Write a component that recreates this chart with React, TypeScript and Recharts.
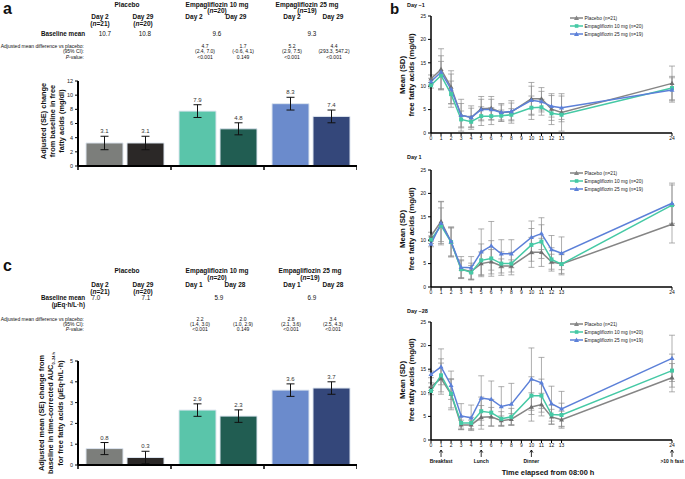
import React from 'react';
import { BarChart, Bar, Cell, XAxis, YAxis, ErrorBar, LabelList, LineChart, Line } from 'recharts';

const FONT = '"Liberation Sans", Arial, sans-serif';

// ---- panel a: change in free fatty acids (mg/dl)
const groups = ['Placebo', 'Empagliflozin 10 mg', 'Empagliflozin 25 mg'];
const ffaFirst = [3.25, 7.75, 8.8];
const ffaSecond = [3.25, 5.25, 7.0];
const ffaFirstSe = [0.95, 0.9, 0.9];
const ffaSecondSe = [0.95, 0.85, 0.9];
const ffaFirstLbl = ['3.1', '7.9', '8.3'];
const ffaSecondLbl = ['3.1', '4.8', '7.4'];

// ---- panel c: change in time-corrected AUC
const aucFirst = [0.79, 2.64, 3.6];
const aucSecond = [0.36, 2.35, 3.7];
const aucFirstSe = [0.29, 0.3, 0.3];
const aucSecondSe = [0.3, 0.3, 0.3];
const aucFirstLbl = ['0.8', '2.9', '3.6'];
const aucSecondLbl = ['0.3', '2.3', '3.7'];

const firstColors = ['#7c7e7b', '#5ac5aa', '#6b8bcc'];
const secondColors = ['#2b2827', '#215d52', '#34477a'];

// ---- panel b: mean (SD) free fatty acids over time
const hours = [0, 1, 2, 3, 4, 5, 6, 7, 8, 10, 11, 12, 13, 24];
const hourTicks = [0, 1, 2, 3, 4, 5, 6, 7, 8, 9, 10, 11, 12, 13, 24];

const dm1Placebo = [11.6, 13.6, 9.8, 3.8, 3.3, 5.2, 5.3, 4.4, 4.5, 7.3, 7.3, 5.1, 4.4, 10.6];
const dm1E10 = [10.2, 12.3, 8.3, 2.9, 2.4, 3.6, 3.6, 3.7, 3.9, 5.4, 5.5, 4.2, 3.9, 9.6];
const dm1E25 = [11.0, 13.0, 9.4, 3.8, 3.3, 5.0, 5.0, 4.4, 4.6, 7.0, 6.7, 5.7, 5.4, 9.2];
const dm1PlaceboSd = [0.8, 4.4, 3.5, 3.4, 2.5, 2.6, 2.5, 1.9, 2.4, 3.5, 2.4, 3.3, 4.0, 3.7];
const dm1E10Sd = [0.6, 3.0, 2.8, 1.8, 1.2, 2.0, 1.8, 1.2, 1.3, 2.5, 1.7, 1.5, 1.5, 2.5];
const dm1E25Sd = [0.7, 3.5, 3.2, 2.5, 2.0, 2.2, 2.2, 1.6, 1.8, 3.0, 2.2, 2.3, 2.5, 2.6];

const d1Placebo = [10.9, 14.0, 9.6, 3.8, 3.3, 5.0, 5.4, 4.5, 4.5, 7.4, 7.4, 5.4, 4.9, 13.4];
const d1E10 = [10.1, 13.1, 9.6, 3.8, 3.1, 5.7, 6.1, 5.0, 5.0, 9.0, 9.7, 5.9, 4.9, 17.5];
const d1E25 = [9.2, 13.6, 9.7, 4.2, 4.1, 7.5, 8.8, 7.1, 7.1, 10.6, 11.4, 8.0, 7.2, 17.9];
const d1PlaceboSd = [0.8, 4.3, 3.2, 2.0, 1.8, 2.5, 2.6, 1.5, 1.3, 3.2, 3.0, 1.6, 2.3, 4.0];
const d1E10Sd = [0.8, 3.8, 3.0, 1.8, 1.5, 3.5, 3.8, 2.5, 2.4, 3.5, 3.6, 2.5, 2.0, 4.3];
const d1E25Sd = [0.6, 4.6, 3.1, 2.3, 2.4, 4.9, 5.2, 3.0, 3.0, 3.5, 3.4, 3.0, 3.5, 4.3];

const d28Placebo = [11.3, 13.0, 9.7, 3.2, 3.2, 4.8, 4.9, 4.1, 4.4, 7.0, 7.5, 4.9, 4.3, 13.2];
const d28E10 = [10.4, 13.7, 9.8, 3.6, 3.6, 6.1, 5.8, 4.5, 4.9, 9.4, 9.4, 5.4, 5.3, 14.7];
const d28E25 = [13.9, 15.5, 11.6, 5.1, 4.7, 8.9, 8.6, 7.1, 7.6, 12.9, 12.1, 7.7, 6.6, 17.3];
const d28PlaceboSd = [0.8, 3.3, 3.3, 1.0, 1.0, 2.5, 2.0, 1.0, 1.2, 3.0, 2.4, 1.6, 1.8, 3.0];
const d28E10Sd = [0.8, 3.5, 3.0, 1.4, 1.2, 3.0, 2.8, 1.5, 1.8, 4.0, 3.5, 2.0, 2.5, 3.5];
const d28E25Sd = [0.7, 3.8, 3.0, 2.6, 2.7, 4.7, 3.9, 4.2, 4.4, 6.6, 5.4, 3.7, 3.7, 4.9];

const seriesNames = ['Placebo (n=21)', 'Empagliflozin 10 mg (n=20)', 'Empagliflozin 25 mg (n=19)'];
const seriesColors = ['#858585', '#45c9a5', '#5c80d8'];

const mealHours = [1, 5, 10, 24];
const mealLabels = ['Breakfast', 'Lunch', 'Dinner', '>10 h fast'];

const BAR_PLOT_W = 279;

const Txt = ({ x, y, size = 6, bold = false, align = 'center', children }: any) => {
  const tx = align === 'center' ? '-50%' : align === 'right' ? '-100%' : '0';
  return (
    <div style={{ position: 'absolute', left: x, top: y, transform: `translate(${tx}, -50%)`, fontSize: size, fontWeight: bold ? 'bold' : 'normal', whiteSpace: 'nowrap', lineHeight: 1, color: '#111' }}>
      {children}
    </div>
  );
};

const VLabel = ({ x, y, size = 7.4, lines }: any) => (
  <div style={{ position: 'absolute', left: x, top: y, transform: 'translate(-50%, -50%) rotate(-90deg)', fontSize: size, fontWeight: 'bold', whiteSpace: 'nowrap', textAlign: 'center', lineHeight: 1.2, color: '#111' }}>
    {lines.map((l: any, i: number) => <div key={i}>{l}</div>)}
  </div>
);

const BoundaryTick = (props: any) => {
  const { x, y, index } = props;
  const half = BAR_PLOT_W / 6;
  return (
    <g>
      <line x1={x - half} x2={x - half} y1={y} y2={y + 4} stroke="#000" strokeWidth={1.5} />
      {index === 2 && <line x1={x + half} x2={x + half} y1={y} y2={y + 4} stroke="#000" strokeWidth={1.5} />}
    </g>
  );
};

const valueLabel = (texts: string[], se: number[]) => (props: any) => {
  const { x, y, width, height, index, value } = props;
  const perUnit = Number(height) / Number(value);
  const ty = Number(y) - se[index] * perUnit - 3;
  return (
    <text key={index} x={Number(x) + Number(width) / 2} y={ty} textAnchor="middle" fontSize={6} fill="#333" fontFamily={FONT}>
      {texts[index]}
    </text>
  );
};

const BarPanel = ({ top, plotH, yMax, first, second, firstSe, secondSe, firstLbl, secondLbl }: any) => {
  const rows = groups.map((g, i) => ({ g, a: first[i], ae: firstSe[i], b: second[i], be: secondSe[i] }));
  const step = yMax > 6 ? 2 : 1;
  const ticks = Array.from({ length: yMax / step + 1 }, (_, i) => i * step);
  return (
    <div style={{ position: 'absolute', left: 40, top }}>
      <BarChart width={38 + BAR_PLOT_W} height={11 + plotH + 6} data={rows} margin={{ top: 11, right: 0, bottom: 0, left: 0 }} barGap={4} barCategoryGap={7}>
        <XAxis dataKey="g" tick={<BoundaryTick />} tickLine={false} tickSize={0} tickMargin={0} interval={0} height={6} axisLine={{ stroke: '#000', strokeWidth: 2 }} />
        <YAxis domain={[0, yMax]} ticks={ticks} width={38} tickSize={3} tickMargin={2} tick={{ fontSize: 5.5, fill: '#222', fontFamily: FONT }} tickLine={{ stroke: '#000', strokeWidth: 1 }} axisLine={{ stroke: '#000', strokeWidth: 2 }} />
        <Bar dataKey="a" barSize={37} stroke="#dde5ef" strokeWidth={1} isAnimationActive={false}>
          {rows.map((_, i) => <Cell key={i} fill={firstColors[i]} />)}
          <ErrorBar dataKey="ae" width={4} stroke="#111" strokeWidth={1} direction="y" />
          <LabelList dataKey="a" content={valueLabel(firstLbl, firstSe)} />
        </Bar>
        <Bar dataKey="b" barSize={37} stroke="#dde5ef" strokeWidth={1} isAnimationActive={false}>
          {rows.map((_, i) => <Cell key={i} fill={secondColors[i]} />)}
          <ErrorBar dataKey="be" width={4} stroke="#111" strokeWidth={1} direction="y" />
          <LabelList dataKey="b" content={valueLabel(secondLbl, secondSe)} />
        </Bar>
      </BarChart>
    </div>
  );
};

const triDot = (color: string) => (p: any) => (
  <path key={p.index} d={`M${p.cx},${p.cy - 2.6}L${p.cx + 2.5},${p.cy + 1.7}L${p.cx - 2.5},${p.cy + 1.7}Z`} fill={color} />
);
const sqDot = (color: string) => (p: any) => (
  <rect key={p.index} x={p.cx - 2} y={p.cy - 2} width={4} height={4} fill={color} />
);

const MealTick = (props: any) => {
  const { x, y, payload } = props;
  const mi = mealHours.indexOf(payload.value);
  return (
    <g fontFamily={FONT}>
      <text x={x} y={y} dy={4} textAnchor="middle" fontSize={5} fill="#111">{payload.value}</text>
      {mi >= 0 && (
        <g>
          <line x1={x} x2={x} y1={y + 7} y2={y + 14} stroke="#000" strokeWidth={0.8} />
          <path d={`M${x - 1.6},${y + 9.6}L${x},${y + 7}L${x + 1.6},${y + 9.6}`} fill="none" stroke="#000" strokeWidth={0.8} />
          <text x={x} y={y + 20} textAnchor="middle" fontSize={5} fontWeight="bold" fill="#111">{mealLabels[mi]}</text>
        </g>
      )}
    </g>
  );
};

const LegendBox = ({ x, y }: any) => (
  <div style={{ position: 'absolute', left: x, top: y }}>
    {seriesNames.map((n, i) => (
      <div key={n} style={{ display: 'flex', alignItems: 'center', height: 8.2, fontSize: 4.8, color: '#222', whiteSpace: 'nowrap' }}>
        <svg width={13} height={6} style={{ marginRight: 1.5 }}>
          <line x1={0} x2={13} y1={3} y2={3} stroke={seriesColors[i]} strokeWidth={1.5} />
          {i === 1
            ? <rect x={4.8} y={1.2} width={3.6} height={3.6} fill={seriesColors[i]} />
            : <path d="M6.5,0.6L9,5L4,5Z" fill={seriesColors[i]} />}
        </svg>
        {n}
      </div>
    ))}
  </div>
);

const LinePanel = ({ top, plotH, p, e10, e25, pSd, e10Sd, e25Sd, meals }: any) => {
  const rows = hours.map((t, i) => ({ t, p: p[i], e10: e10[i], e25: e25[i], pSd: pSd[i], e10Sd: e10Sd[i], e25Sd: e25Sd[i] }));
  const axisH = meals ? 30 : 14;
  return (
    <div style={{ position: 'absolute', left: 405, top }}>
      <LineChart width={280} height={8 + plotH + axisH} data={rows} margin={{ top: 8, right: 13, bottom: 0, left: 0 }}>
        <XAxis dataKey="t" type="number" domain={[0, 24]} ticks={hourTicks} interval={0} height={axisH} tickSize={3} tickMargin={0}
          tick={meals ? <MealTick /> : { fontSize: 5, fill: '#111', fontFamily: FONT }}
          tickLine={{ stroke: '#000' }} axisLine={{ stroke: '#000', strokeWidth: 1.5 }} />
        <YAxis domain={[0, 25]} ticks={[0, 5, 10, 15, 20, 25]} width={26} tickSize={3} tickMargin={2}
          tick={{ fontSize: 5, fill: '#111', fontFamily: FONT }} tickLine={{ stroke: '#000' }} axisLine={{ stroke: '#000', strokeWidth: 1.5 }} />
        <Line dataKey="p" stroke={seriesColors[0]} strokeWidth={1.5} dot={triDot('#6f6f6f')} isAnimationActive={false}>
          <ErrorBar dataKey="pSd" width={3} stroke="#8c8c8c" strokeWidth={0.7} direction="y" />
        </Line>
        <Line dataKey="e10" stroke={seriesColors[1]} strokeWidth={1.5} dot={sqDot(seriesColors[1])} isAnimationActive={false}>
          <ErrorBar dataKey="e10Sd" width={3} stroke="#8c8c8c" strokeWidth={0.7} direction="y" />
        </Line>
        <Line dataKey="e25" stroke={seriesColors[2]} strokeWidth={1.5} dot={triDot(seriesColors[2])} isAnimationActive={false}>
          <ErrorBar dataKey="e25Sd" width={3} stroke="#8c8c8c" strokeWidth={0.7} direction="y" />
        </Line>
      </LineChart>
    </div>
  );
};

export default function App() {
  return (
    <div style={{ position: 'absolute', left: 0, top: 0, width: 685, height: 479, background: '#fff', overflow: 'hidden', fontFamily: FONT }}>
      {/* panel a */}
      <Txt x={3} y={9} size={16} bold align="left">a</Txt>
      <Txt x={127} y={4.5} size={6.5} bold>Placebo</Txt>
      <Txt x={217} y={4.5} size={6.5} bold>Empagliflozin 10 mg</Txt>
      <Txt x={217} y={10.5} size={6.5} bold>(<i>n</i>=20)</Txt>
      <Txt x={307} y={4.5} size={6.5} bold>Empagliflozin 25 mg</Txt>
      <Txt x={307} y={10.5} size={6.5} bold>(<i>n</i>=19)</Txt>
      <Txt x={100} y={17} size={6.5} bold>Day 2</Txt>
      <Txt x={100} y={24} size={6.5} bold>(<i>n</i>=21)</Txt>
      <Txt x={143} y={17} size={6.5} bold>Day 29</Txt>
      <Txt x={143} y={24} size={6.5} bold>(<i>n</i>=20)</Txt>
      <Txt x={194} y={17} size={6.5} bold>Day 2</Txt>
      <Txt x={236} y={17} size={6.5} bold>Day 29</Txt>
      <Txt x={292} y={17} size={6.5} bold>Day 2</Txt>
      <Txt x={333} y={17} size={6.5} bold>Day 29</Txt>
      <Txt x={85} y={34} size={6.3} bold align="right">Baseline mean</Txt>
      <Txt x={105} y={34} size={6.3}>10.7</Txt>
      <Txt x={145} y={34} size={6.3}>10.8</Txt>
      <Txt x={217} y={34} size={6.3}>9.6</Txt>
      <Txt x={312} y={34} size={6.3}>9.3</Txt>
      <Txt x={84} y={46} size={5} align="right">Adjusted mean difference vs placebo:</Txt>
      <Txt x={84} y={51.3} size={5} align="right">(95% CI):</Txt>
      <Txt x={84} y={56.6} size={5} align="right"><i>P</i>-value:</Txt>
      {[['4.7', '(2.4, 7.0)', '<0.001', 205], ['1.7', '(-0.6, 4.1)', '0.149', 243], ['5.2', '(2.9, 7.5)', '<0.001', 292], ['4.4', '(293.3, 547.2)', '<0.001', 334]].map((c: any) => (
        <React.Fragment key={c[3]}>
          <Txt x={c[3]} y={46} size={5}>{c[0]}</Txt>
          <Txt x={c[3]} y={51.3} size={5}>{c[1]}</Txt>
          <Txt x={c[3]} y={56.6} size={5}>{c[2]}</Txt>
        </React.Fragment>
      ))}
      <VLabel x={52.5} y={121} lines={['Adjusted (SE) change', 'from baseline in free', 'fatty acids (mg/dl)']} />
      <BarPanel top={70} plotH={85} yMax={12} first={ffaFirst} second={ffaSecond} firstSe={ffaFirstSe} secondSe={ffaSecondSe} firstLbl={ffaFirstLbl} secondLbl={ffaSecondLbl} />

      {/* panel c */}
      <Txt x={3} y={266} size={16} bold align="left">c</Txt>
      <Txt x={127} y={271} size={6.5} bold>Placebo</Txt>
      <Txt x={217} y={271} size={6.5} bold>Empagliflozin 10 mg</Txt>
      <Txt x={217} y={278} size={6.5} bold>(<i>n</i>=20)</Txt>
      <Txt x={310} y={271} size={6.5} bold>Empagliflozin 25 mg</Txt>
      <Txt x={310} y={278} size={6.5} bold>(<i>n</i>=19)</Txt>
      <Txt x={100} y={285} size={6.5} bold>Day 2</Txt>
      <Txt x={100} y={292} size={6.5} bold>(<i>n</i>=21)</Txt>
      <Txt x={143} y={285} size={6.5} bold>Day 29</Txt>
      <Txt x={143} y={292} size={6.5} bold>(<i>n</i>=20)</Txt>
      <Txt x={194} y={285} size={6.5} bold>Day 1</Txt>
      <Txt x={235} y={285} size={6.5} bold>Day 28</Txt>
      <Txt x={292} y={285} size={6.5} bold>Day 1</Txt>
      <Txt x={333} y={285} size={6.5} bold>Day 28</Txt>
      <Txt x={85} y={297.5} size={6.3} bold align="right">Baseline mean</Txt>
      <Txt x={85} y={305} size={6.3} bold align="right">(µEq·h/L·h)</Txt>
      <Txt x={96} y={297.5} size={6.3}>7.0</Txt>
      <Txt x={146} y={297.5} size={6.3}>7.1</Txt>
      <Txt x={219} y={297.5} size={6.3}>5.9</Txt>
      <Txt x={312} y={297.5} size={6.3}>6.9</Txt>
      <Txt x={84} y={318.5} size={5} align="right">Adjusted mean difference vs placebo:</Txt>
      <Txt x={84} y={323.8} size={5} align="right">(95% CI):</Txt>
      <Txt x={84} y={329.1} size={5} align="right"><i>P</i>-value:</Txt>
      {[['2.2', '(1.4, 3.0)', '<0.001', 200], ['2.0', '(1.0, 2.9)', '0.149', 243], ['2.8', '(2.1, 3.6)', '<0.001', 291], ['3.4', '(2.5, 4.3)', '<0.001', 333]].map((c: any) => (
        <React.Fragment key={c[3]}>
          <Txt x={c[3]} y={318.5} size={5}>{c[0]}</Txt>
          <Txt x={c[3]} y={323.8} size={5}>{c[1]}</Txt>
          <Txt x={c[3]} y={329.1} size={5}>{c[2]}</Txt>
        </React.Fragment>
      ))}
      <VLabel x={52} y={413} lines={['Adjusted mean (SE) change from', <span key="l2">baseline in time-corrected AUC<sub style={{ fontSize: 4 }}>0–24 h</sub></span>, 'for free fatty acids (µEq·h/L·h)']} />
      <BarPanel top={350} plotH={104} yMax={5} first={aucFirst} second={aucSecond} firstSe={aucFirstSe} secondSe={aucSecondSe} firstLbl={aucFirstLbl} secondLbl={aucSecondLbl} />

      {/* panel b */}
      <Txt x={390} y={8} size={15} bold align="left">b</Txt>
      <Txt x={407} y={5.5} size={5.5} bold align="left">Day –1</Txt>
      <VLabel x={407} y={74.5} size={7.8} lines={['Mean (SD)', 'free fatty acids (mg/dl)']} />
      <LinePanel top={8} plotH={117} p={dm1Placebo} e10={dm1E10} e25={dm1E25} pSd={dm1PlaceboSd} e10Sd={dm1E10Sd} e25Sd={dm1E25Sd} />
      <LegendBox x={570} y={14} />

      <Txt x={407} y={157.5} size={5.5} bold align="left">Day 1</Txt>
      <VLabel x={407} y={228.5} size={7.8} lines={['Mean (SD)', 'free fatty acids (mg/dl)']} />
      <LinePanel top={162} plotH={117} p={d1Placebo} e10={d1E10} e25={d1E25} pSd={d1PlaceboSd} e10Sd={d1E10Sd} e25Sd={d1E25Sd} />
      <LegendBox x={570} y={169} />

      <Txt x={407} y={312} size={5.5} bold align="left">Day –28</Txt>
      <VLabel x={407} y={380} size={7.8} lines={['Mean (SD)', 'free fatty acids (mg/dl)']} />
      <LinePanel top={314} plotH={118} p={d28Placebo} e10={d28E10} e25={d28E25} pSd={d28PlaceboSd} e10Sd={d28E10Sd} e25Sd={d28E25Sd} meals />
      <LegendBox x={570} y={320} />
      <Txt x={548} y={473} size={7.4} bold>Time elapsed from 08:00 h</Txt>
    </div>
  );
}
